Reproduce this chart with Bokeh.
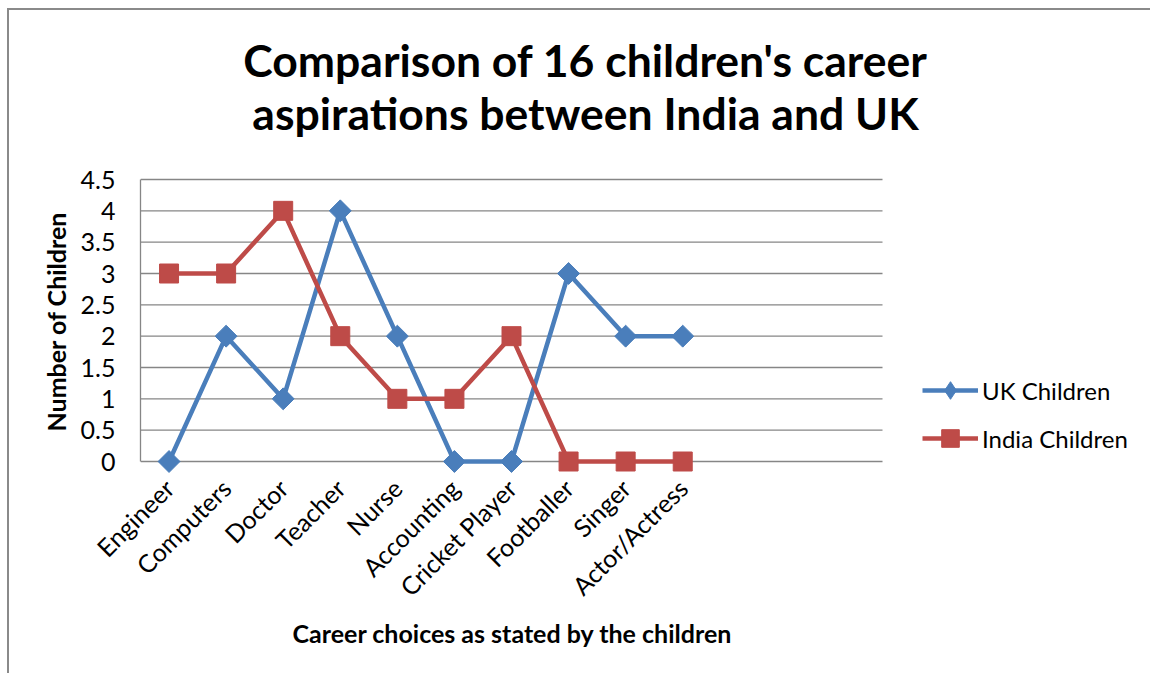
from math import pi
from bokeh.plotting import figure
from bokeh.models import (Range1d, FixedTicker, NumeralTickFormatter, Legend, LegendItem, Label, Title)
from bokeh.embed import file_html
from bokeh.resources import INLINE

# ---------------- data ----------------
categories = ["Engineer", "Computers", "Doctor", "Teacher", "Nurse", "Accounting",
              "Cricket Player", "Footballer", "Singer", "Actor/Actress"]
uk_children = [0, 2, 1, 4, 2, 0, 0, 3, 2, 2]
india_children = [3, 3, 4, 2, 1, 1, 2, 0, 0, 0]
y_ticks = [0, 0.5, 1, 1.5, 2, 2.5, 3, 3.5, 4, 4.5]
n_slots = 13  # category slots on the axis (the last three are empty)

title_lines = ["Comparison of 16 children's career", "aspirations between India and UK"]
x_title = "Career choices as stated by the children"
y_title = "Number of Children"

# ---------------- style / layout ----------------
BLUE = "#4A7EBB"
RED = "#BE4B48"
GRID = "#868686"
FONT = "Lato"

W, H = 1143, 665            # canvas (page minus margin + border)
OFF_X, OFF_Y = 9, 10        # canvas offset on the page
PLOT_L, PLOT_R = 140, 882   # page px of category-axis extent
PLOT_T, PLOT_B = 179, 461   # page px of value-axis extent
SLOT_PX = (PLOT_R - PLOT_L) / n_slots
UNIT_PX = (PLOT_B - PLOT_T) / (y_ticks[-1] - y_ticks[0])
FRAME_B = 477  # page px of frame bottom (room for markers sitting on zero)


def px_x(page_x):
    return -0.5 + (page_x - PLOT_L) / SLOT_PX


def px_y(page_y):
    return y_ticks[0] + (PLOT_B - page_y) / UNIT_PX


xs = list(range(len(categories)))

p = figure(width=W, height=H, output_backend="svg", toolbar_location=None,
           x_range=Range1d(px_x(PLOT_L), px_x(OFF_X + W)),
           y_range=Range1d(px_y(FRAME_B), px_y(OFF_Y)),
           min_border_left=PLOT_L - OFF_X, min_border_right=0, min_border_top=0,
           min_border_bottom=OFF_Y + H - FRAME_B)
p.styles = {"margin-left": "7px", "margin-top": "8px",
            "border-left": "2px solid #8a8a8a", "border-top": "2px solid #8a8a8a"}
p.outline_line_color = None
p.background_fill_color = "white"
p.border_fill_color = "white"
p.xgrid.grid_line_color = None
p.ygrid.grid_line_color = None

# horizontal grid lines over the category slots only
p.segment(x0=[-0.5] * len(y_ticks), x1=[n_slots - 0.5] * len(y_ticks), y0=y_ticks, y1=y_ticks,
          line_color=GRID, line_width=1.3, level="underlay")

# axes
p.yaxis.ticker = FixedTicker(ticks=y_ticks)
p.yaxis.formatter = NumeralTickFormatter(format="0.[0]")
p.yaxis.bounds = (y_ticks[0], y_ticks[-1])
p.xaxis.ticker = FixedTicker(ticks=xs)
p.xaxis.major_label_overrides = {i: c for i, c in zip(xs, categories)}
p.xaxis.major_label_orientation = pi / 4

for ax in (p.xaxis[0], p.yaxis[0]):
    ax.axis_line_color = GRID
    ax.axis_line_width = 1.3
    ax.major_tick_line_color = None
    ax.minor_tick_line_color = None
    ax.major_tick_in = 0
    ax.major_tick_out = 0
    ax.major_label_text_font = FONT
    ax.major_label_text_font_size = "25px"
    ax.major_label_text_color = "black"
p.xaxis.axis_line_color = None  # the zero grid line serves as the category axis line
p.yaxis.major_label_standoff = 25
p.xaxis.major_label_standoff = 6

# axis titles, placed along the plotted extent rather than the whole frame
p.add_layout(Title(text=y_title, align="left", offset=FRAME_B - 431, standoff=14,
                   text_font=FONT, text_font_style="bold", text_font_size="25px",
                   text_color="black"), "left")
p.add_layout(Title(text=x_title, align="left", offset=292 - PLOT_L, standoff=0,
                   text_font=FONT, text_font_style="bold", text_font_size="25px",
                   text_color="black"), "below")

# chart title (two centred lines)
for line, base in zip(title_lines, [59, 112]):
    p.add_layout(Label(x=px_x(585), y=px_y(base), text=line, text_align="center",
                       text_baseline="alphabetic", text_font=FONT, text_font_style="bold",
                       text_font_size="44.5px", text_color="black"))

# series
uk_line = p.line(xs, uk_children, line_color=BLUE, line_width=4.5)
# legend swatch shape for the UK series (sits hidden beneath the plotted diamonds)
uk_key = p.scatter(xs, uk_children, marker="diamond", size=18, fill_color=BLUE, line_color=BLUE)
uk_pts = p.scatter(xs, uk_children, marker="square", angle=pi / 4, size=15.5,
                   fill_color=BLUE, line_color=BLUE)
in_line = p.line(xs, india_children, line_color=RED, line_width=4.5)
in_pts = p.scatter(xs, india_children, marker="square", size=19,
                   fill_color=RED, line_color=RED)

legend = Legend(items=[LegendItem(label="UK Children", renderers=[uk_line, uk_key]),
                       LegendItem(label="India Children", renderers=[in_line, in_pts])],
                location=(922 - PLOT_L, FRAME_B - 460), orientation="vertical",
                glyph_width=56, glyph_height=44, spacing=4, padding=0, margin=0,
                label_standoff=4, label_text_font=FONT, label_text_font_size="24px",
                label_text_color="black", border_line_color=None, background_fill_alpha=0)
p.add_layout(legend, "center")

open("out.html", "w").write(file_html(p, INLINE))
